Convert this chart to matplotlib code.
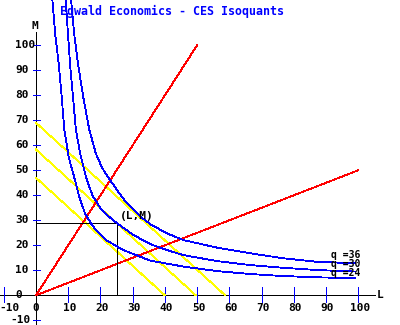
import matplotlib
matplotlib.use('Agg')
import matplotlib.pyplot as plt

# isoquant q = 24
L_q24 = [5.1, 6.0, 7.1, 8.0, 8.8, 10.2, 12.1, 13.5, 15.2, 17.0, 18.8, 22.0, 27.1, 35.4, 45.7, 56.1, 66.5, 76.8, 87.2, 99.1]
M_q24 = [118, 104, 92, 79, 66, 55, 46.1, 39, 32.8, 28.9, 25.8, 21.9, 18.1, 13.9, 11.5, 9.7, 8.5, 7.7, 7.2, 6.8]

# isoquant q = 30
L_q30 = [9.2, 9.9, 10.6, 11.5, 12.4, 13.7, 15.7, 17.5, 19.9, 22.5, 25.2, 30.0, 35.4, 40.6, 45.7, 56.1, 66.5, 76.8, 87.2, 99.1]
M_q30 = [118, 105, 92, 79, 66, 56.8, 46.5, 40, 35, 31.6, 28.8, 24.3, 20.5, 18.1, 16.1, 13.7, 12.1, 11.0, 10.1, 9.5]

# isoquant q = 36
L_q36 = [10.9, 11.9, 13.1, 14.7, 16.5, 18.5, 20.5, 23.0, 25.2, 27.5, 30.0, 32.3, 35.4, 40.6, 45.7, 56.1, 66.5, 76.8, 87.2, 99.1]
M_q36 = [118, 104, 92, 79, 66.5, 57, 51, 46.1, 42, 38, 34.6, 31.6, 28.5, 24.8, 22.1, 19.1, 16.8, 14.8, 13.4, 12.8]

q_labels = ['q =36', 'q =30', 'q =24']
q_label_M = [16.3, 12.6, 8.9]

# isocost lines (M intercept, L intercept)
iso_M0 = [47.0, 58.3, 69.0]
iso_L0 = [40.0, 49.6, 58.7]

# expansion rays (end points)
ray_L = [50, 100]
ray_M = [100, 50]

# tangency point
opt_L = 25.2
opt_M = 28.8

x_ticks = [-10, 10, 20, 30, 40, 50, 60, 70, 80, 90, 100]
y_ticks = [-10, 10, 20, 30, 40, 50, 60, 70, 80, 90, 100]

fig = plt.figure(figsize=(4, 3.25), dpi=100)
ax = fig.add_axes([0, 0, 1, 1])
ax.set_xlim(-36 / 3.222, 364 / 3.222)
ax.set_ylim(-29.7 / 2.5, 295.3 / 2.5)
ax.axis('off')

font = dict(family='DejaVu Sans Mono', weight='bold', fontsize=8)
lw = 0.6

# axes
ax.plot([-12, 105.3], [0, 0], color='black', lw=lw, antialiased=False)
ax.plot([0, 0], [-12, 105.3], color='black', lw=lw, antialiased=False)

for t in x_ticks:
    ax.plot([t, t], [-2.6, 3.2], color='blue', lw=lw, antialiased=False)
    if t == -10:
        ax.text(-8.1, -5, str(t), ha='center', va='center', **font)
    else:
        ax.text(t + 0.5, -5, str(t), ha='center', va='center', **font)
ax.text(0, -5, '0', ha='center', va='center', **font)

for t in y_ticks:
    ax.plot([-1.0, 1.3], [t, t], color='blue', lw=lw, antialiased=False)
    if t == -10:
        ax.text(-8.0, t, str(t), ha='left', va='center', **font)
    else:
        ax.text(-6.5, t, str(t), ha='left', va='center', **font)
ax.text(-6.5, 0, '0', ha='left', va='center', **font)

ax.text(-0.3, 107.7, 'M', ha='center', va='center', **font)
ax.text(106.8, 0, 'L', ha='center', va='center', **font)

# isocost lines
for m0, l0 in zip(iso_M0, iso_L0):
    ax.plot([0, l0], [m0, 0], color='yellow', lw=lw, antialiased=False)

# rays
for l, m in zip(ray_L, ray_M):
    ax.plot([0, l], [0, m], color='red', lw=lw, antialiased=False)

# optimum
ax.plot([0, opt_L, opt_L], [opt_M, opt_M, 0], color='black', lw=lw, antialiased=False)
ax.text(26.1, 31.7, '(L,M)', ha='left', va='center', **font)

# isoquants
for L, M in [(L_q24, M_q24), (L_q30, M_q30), (L_q36, M_q36)]:
    ax.plot(L, M, color='blue', lw=lw, antialiased=False)

for lab, m in zip(q_labels, q_label_M):
    ax.text(91.6, m, lab, ha='left', va='center', family='DejaVu Sans Mono',
            weight='bold', fontsize=7)

ax.text(135.5 / 3.222, 113.7, 'Egwald Economics - CES Isoquants',
        ha='center', va='center', color='blue', family='DejaVu Sans Mono',
        weight='bold', fontsize=8.4)

plt.savefig('out.png', dpi=100)
